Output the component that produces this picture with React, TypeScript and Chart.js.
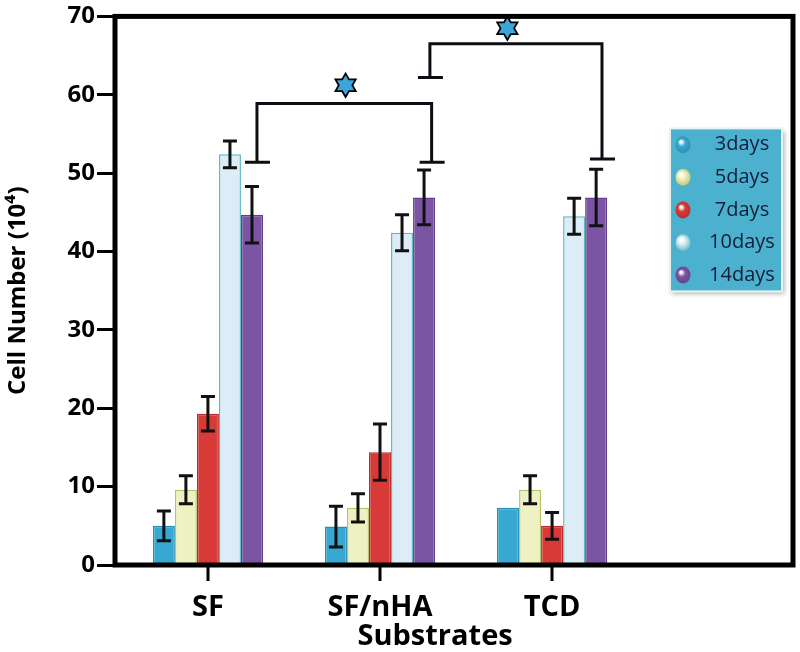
import React, { useEffect, useRef } from 'react';
import { Chart, registerables } from 'chart.js';

Chart.register(...registerables);

// ---- data ----
const CATEGORIES = ['SF', 'SF/nHA', 'TCD'];
const SERIES_LABELS = ['3days', '5days', '7days', '10days', '14days'];
const DAY3 = [5.0, 4.9, 7.3];
const DAY5 = [9.6, 7.3, 9.6];
const DAY7 = [19.3, 14.4, 5.0];
const DAY10 = [52.4, 42.4, 44.5];
const DAY14 = [44.7, 46.9, 46.9];
const ERR3 = [1.9, 2.6, 0];
const ERR5 = [1.8, 1.8, 1.8];
const ERR7 = [2.2, 3.6, 1.7];
const ERR10 = [1.7, 2.3, 2.3];
const ERR14 = [3.6, 3.5, 3.6];
const Y_TICKS = [0, 10, 20, 30, 40, 50, 60, 70];
const X_TITLE = 'Substrates';
const Y_TITLE = 'Cell Number (10\u2074)';

// significance brackets (x in category-index units, y in data units)
const BRACKET_FROM = [0.285, 1.29];
const BRACKET_TO = [1.3, 2.29];
const BRACKET_TOP = [58.9, 66.5];
const BRACKET_FROM_END = [51.4, 62.2];
const BRACKET_TO_END = [51.4, 51.8];
const STAR_X = [0.8, 1.74];
const STAR_Y = [61.2, 68.5];

const SERIES = [DAY3, DAY5, DAY7, DAY10, DAY14];
const ERRORS = [ERR3, ERR5, ERR7, ERR10, ERR14];

// ---- styles ----
const COLORS = ['#36a8d2', '#eef1c2', '#d73a37', '#dcedf7', '#7c54a4'];
const BORDERS = ['#2b8db3', '#b9c36c', '#b82d2c', '#5fbac0', '#63408a'];
const FONT = "'Open Sans', 'DejaVu Sans', sans-serif";

function drawStar(ctx: CanvasRenderingContext2D, cx: number, cy: number, r: number) {
  ctx.save();
  ctx.beginPath();
  for (let t = 0; t < 2; t++) {
    for (let k = 0; k < 3; k++) {
      const a = -Math.PI / 2 + t * Math.PI + (k * 2 * Math.PI) / 3;
      const px = cx + r * Math.cos(a);
      const py = cy + r * Math.sin(a);
      if (k === 0) ctx.moveTo(px, py);
      else ctx.lineTo(px, py);
    }
    ctx.closePath();
  }
  ctx.lineWidth = 3.5;
  ctx.strokeStyle = '#000';
  ctx.lineJoin = 'miter';
  ctx.stroke();
  ctx.fillStyle = '#3aa6dc';
  ctx.fill('nonzero');
  ctx.restore();
}

const overlayPlugin = {
  id: 'overlay',
  afterDatasetsDraw(chart: any) {
    const ctx: CanvasRenderingContext2D = chart.ctx;
    const yS = chart.scales.y;
    ctx.save();
    ctx.strokeStyle = '#111';
    ctx.lineWidth = 3;
    chart.data.datasets.forEach((_ds: any, di: number) => {
      const meta = chart.getDatasetMeta(di);
      meta.data.forEach((el: any, i: number) => {
        const e = ERRORS[di][i];
        if (!e) return;
        const v = SERIES[di][i];
        const yt = yS.getPixelForValue(v + e);
        const yb = yS.getPixelForValue(v - e);
        const x = el.x;
        ctx.beginPath();
        ctx.moveTo(x, yt);
        ctx.lineTo(x, yb);
        ctx.moveTo(x - 7, yt);
        ctx.lineTo(x + 7, yt);
        ctx.moveTo(x - 7, yb);
        ctx.lineTo(x + 7, yb);
        ctx.stroke();
      });
    });
    ctx.restore();
  },
  afterDraw(chart: any) {
    const ctx: CanvasRenderingContext2D = chart.ctx;
    const xS = chart.scales.x;
    const yS = chart.scales.y;
    const ca = chart.chartArea;
    ctx.save();
    // frame
    ctx.strokeStyle = '#000';
    ctx.lineWidth = 5;
    ctx.strokeRect(ca.left, ca.top, ca.right - ca.left, ca.bottom - ca.top);

    // x tick marks (below the axis, at each category)
    ctx.fillStyle = '#000';
    const y0 = yS.getPixelForValue(0);
    CATEGORIES.forEach((_c, i) => {
      const tx = Math.round(xS.getPixelForValue(i));
      ctx.fillRect(tx - 1.5, y0 + 2, 3, 14);
    });

    // brackets
    ctx.lineWidth = 3;
    ctx.strokeStyle = '#0d0d14';
    ctx.beginPath();
    BRACKET_FROM.forEach((f, i) => {
      const x1 = xS.getPixelForValue(f);
      const x2 = xS.getPixelForValue(BRACKET_TO[i]);
      const yt = yS.getPixelForValue(BRACKET_TOP[i]);
      const y1 = yS.getPixelForValue(BRACKET_FROM_END[i]);
      const y2 = yS.getPixelForValue(BRACKET_TO_END[i]);
      ctx.moveTo(x1, y1);
      ctx.lineTo(x1, yt);
      ctx.lineTo(x2, yt);
      ctx.lineTo(x2, y2);
      ctx.moveTo(x1 - 12, y1);
      ctx.lineTo(x1 + 13, y1);
      ctx.moveTo(x2 - 12, y2);
      ctx.lineTo(x2 + 13, y2);
    });
    ctx.stroke();
    STAR_X.forEach((sx, i) => {
      drawStar(ctx, xS.getPixelForValue(sx), yS.getPixelForValue(STAR_Y[i]), 10);
    });

    // legend
    const lw = 112;
    const lh = 163;
    const lx = ca.right - 123;
    const ly = ca.top + 112;
    ctx.save();
    ctx.shadowColor = 'rgba(0,0,0,0.35)';
    ctx.shadowBlur = 5;
    ctx.shadowOffsetX = 2;
    ctx.shadowOffsetY = 3;
    ctx.fillStyle = '#4cb0cf';
    ctx.fillRect(lx, ly, lw, lh);
    ctx.restore();
    ctx.lineWidth = 2;
    ctx.strokeStyle = '#e8f3f6';
    ctx.strokeRect(lx, ly, lw, lh);
    const step = lh / SERIES_LABELS.length;
    SERIES_LABELS.forEach((lab, i) => {
      const cy = ly + step * (i + 0.5);
      const cx = lx + 13;
      const g = ctx.createRadialGradient(cx - 2, cy - 3, 1, cx, cy, 9);
      g.addColorStop(0, '#ffffff');
      g.addColorStop(0.35, COLORS[i]);
      g.addColorStop(1, BORDERS[i]);
      ctx.beginPath();
      ctx.ellipse(cx, cy, 7.5, 8.5, 0, 0, Math.PI * 2);
      ctx.fillStyle = g;
      ctx.fill();
      ctx.fillStyle = '#131d36';
      ctx.font = `20px ${FONT}`;
      ctx.textAlign = 'center';
      ctx.textBaseline = 'middle';
      ctx.fillText(lab, lx + 72, cy);
    });

    // x title
    ctx.fillStyle = '#000';
    ctx.font = `bold 29px ${FONT}`;
    ctx.textAlign = 'center';
    ctx.textBaseline = 'middle';
    ctx.fillText(X_TITLE, xS.getPixelForValue(1.32), ca.bottom + 72);
    ctx.restore();
  },
};

export default function App() {
  const ref = useRef<HTMLCanvasElement | null>(null);
  useEffect(() => {
    if (!ref.current) return;
    const datasets = SERIES.map((vals, di) => ({
      label: SERIES_LABELS[di],
      data: vals.map((v, i) => ({ x: i, y: v })),
      backgroundColor: COLORS[di],
      borderColor: BORDERS[di],
      borderWidth: 1.5,
      barPercentage: 1,
      categoryPercentage: 0.64,
    }));
    const chart = new Chart(ref.current, {
      type: 'bar',
      data: { datasets },
      plugins: [overlayPlugin],
      options: {
        responsive: false,
        animation: false,
        layout: { padding: { top: 13, right: 7, left: 0, bottom: 0 } },
        plugins: { legend: { display: false }, tooltip: { enabled: false } },
        scales: {
          x: {
            type: 'linear',
            min: -0.54,
            max: 3.4,
            offset: false,
            afterBuildTicks: (scale: any) => {
              scale.ticks = CATEGORIES.map((_c, i) => ({ value: i }));
            },
            afterFit: (scale: any) => {
              scale.height = 87;
            },
            ticks: {
              callback: (v: any) => CATEGORIES[v] ?? '',
              color: '#000',
              font: { family: FONT, size: 29, weight: 'bold', lineHeight: 1 },
              padding: 20,
              maxRotation: 0,
              autoSkip: false,
            },
            grid: {
              display: false,
            },
            border: { display: false },
          },
          y: {
            min: 0,
            max: 70,
            afterBuildTicks: (scale: any) => {
              scale.ticks = Y_TICKS.map((v) => ({ value: v }));
            },
            afterFit: (scale: any) => {
              scale.width = 115;
            },
            ticks: {
              color: '#000',
              font: { family: FONT, size: 24, weight: 'bold' },
              padding: 2,
            },
            grid: {
              display: true,
              drawOnChartArea: false,
              drawTicks: true,
              tickLength: 18,
              tickWidth: 3,
              tickColor: '#000',
            },
            border: { display: false },
            title: {
              display: true,
              text: Y_TITLE,
              color: '#000',
              font: { family: FONT, size: 24, weight: 'bold' },
              padding: { top: 4, bottom: 0 },
            },
          },
        },
      } as any,
    });
    return () => chart.destroy();
  }, []);
  return (
    <div style={{ position: 'absolute', left: 0, top: 0, width: 800, height: 652, background: '#fff' }}>
      <canvas ref={ref} width={800} height={652} />
    </div>
  );
}
